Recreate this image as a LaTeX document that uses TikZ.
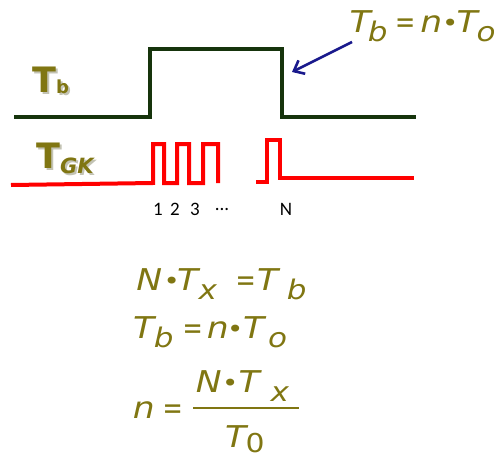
\documentclass[tikz,border=0pt]{standalone}
\usepackage{graphicx}
\usepackage{fontspec}
\setmainfont{DejaVu Sans}
\newfontfamily\numfont{Carlito}
\usetikzlibrary{arrows.meta}
\definecolor{olivetxt}{RGB}{128,118,18}
\definecolor{shadowgray}{RGB}{195,195,180}
\definecolor{sigGreen}{RGB}{22,52,12}
\definecolor{sigRed}{RGB}{255,0,0}
\definecolor{arrowNavy}{RGB}{25,25,140}
% glyph centred in a box of given ink width, then a gap
\newcommand\gc[3]{\makebox[#1pt][c]{\scalebox{1.15}[1]{#3}}\hspace{#2pt}}
\newcommand\sbx[1]{\raisebox{-9pt}{\fontsize{27}{27}\selectfont #1}}
\newcommand\bul{\raisebox{1pt}{\fontsize{24}{24}\selectfont\upshape •}}
\newcommand\eqs{\scalebox{0.7}[1]{=}}
\newcommand\lsub[1]{\raisebox{-1pt}{\fontsize{18}{18}\selectfont #1}}
\newcommand\gsub[1]{\raisebox{-5pt}{\fontsize{21}{21}\selectfont\itshape #1}}
\newcommand\shadowed[1]{\makebox[0pt][l]{\hspace{2pt}\raisebox{-2pt}{\color{shadowgray}#1}}#1}
\tikzset{
  eqtext/.style={text=olivetxt, font=\fontsize{30}{30}\selectfont\itshape, inner sep=0pt, anchor=base west},
  lbltext/.style={text=olivetxt, font=\fontsize{35}{35}\selectfont\bfseries, inner sep=0pt, anchor=base west},
  numtext/.style={font=\numfont\fontsize{19}{19}\selectfont, inner sep=0pt, anchor=center},
  greensig/.style={draw=sigGreen, line width=4pt, line join=miter},
  redsig/.style={draw=sigRed, line width=4pt, line join=miter},
}
\begin{document}
\begin{tikzpicture}[x=1pt,y=-1pt]
\useasboundingbox (0,0) rectangle (494,457);

% green T_b signal
\draw[greensig] (14,117) -- (150,117) -- (150,49) -- (282,49) -- (282,117) -- (416,117);

% red T_GK signal
\draw[redsig] (11,185) -- (153,183) -- (153,144) -- (164,144) -- (164,183) -- (177,183)
  -- (177,144) -- (189,144) -- (189,183) -- (203,183) -- (203,144) -- (218,144) -- (218,183);
\draw[redsig] (256,182) -- (267,182) -- (267,140) -- (280,140) -- (280,178) -- (414,178);

% labels with shadow
\node[lbltext] (tblabel) at (32,93) {\shadowed{T\lsub{b}}};
\node[lbltext] (tgklabel) at (36,168) {\shadowed{T\gsub{GK}}};

% pulse numbers
\node[numtext] (n1) at (158,209) {1};
\node[numtext] (n2) at (175,209) {2};
\node[numtext] (n3) at (195,209) {3};
\node[numtext] (ndots) at (222,209) {...};
\node[numtext] (nN) at (286,209) {N};

% top right equation and arrow
\node[eqtext] (topeq) at (348,33) {\gc{24}{0}{T}\gc{11}{15}{\sbx{b}}\gc{14}{10}{\eqs}\gc{18}{7}{n}\gc{6}{2}{\bul}\gc{24}{0}{T}\gc{14}{0}{\sbx{o}}};
\coordinate (arrowstart) at (352,42);
\coordinate (arrowtip) at (292,72);
\draw[arrowNavy, line width=2.6pt, -{Straight Barb[length=9pt,width=15pt]}] (arrowstart) -- (arrowtip);

% equations
\node[eqtext] (eqA) at (135,290) {\gc{28}{5}{N}\gc{7}{0}{\bul}\gc{25}{0}{T}\gc{15}{23}{\sbx{x}}\gc{15}{0}{\eqs}\gc{29}{6}{T}\gc{17}{0}{\sbx{b}}};
\node[eqtext] (eqB) at (130,338) {\gc{27}{-2}{T}\gc{17}{13}{\sbx{b}}\gc{15}{8}{\eqs}\gc{19}{5}{n}\gc{6}{2}{\bul}\gc{27}{3}{T}\gc{15}{0}{\sbx{o}}};
\node[eqtext] (eqC) at (135,418) {\gc{17}{13}{n}\gc{15}{0}{\eqs}};
\node[eqtext] (numer) at (197,392) {\gc{23}{7}{N}\gc{6}{2}{\bul}\gc{28}{9}{T}\gc{15}{0}{\sbx{x}}};
\node[eqtext] (denom) at (223,447) {\gc{25}{2}{T}\gc{10}{0}{\raisebox{-5pt}{\fontsize{26}{26}\selectfont\upshape 0}}};
\coordinate (fracL) at (193,408);
\coordinate (fracR) at (299,408);
\draw[olivetxt, line width=1.2pt] (fracL) -- (fracR);
\end{tikzpicture}
\end{document}
